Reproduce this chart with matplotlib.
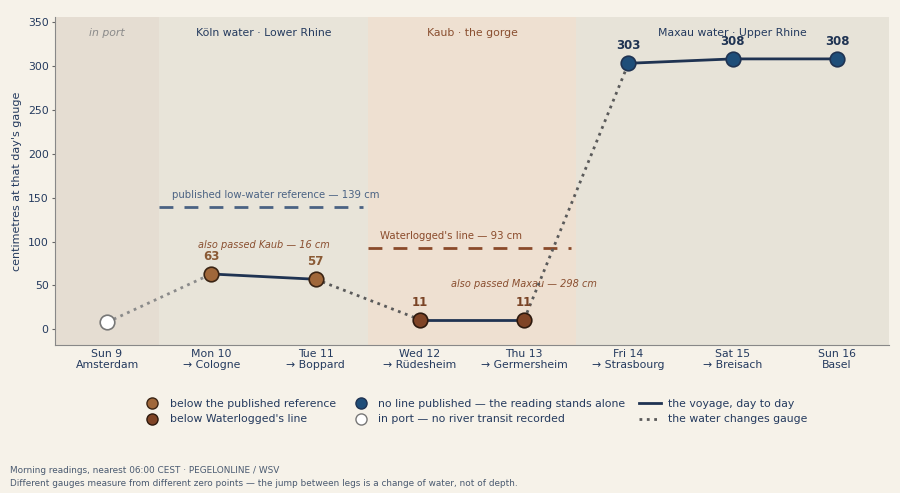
import matplotlib
matplotlib.use("Agg")
import matplotlib.pyplot as plt
from matplotlib.lines import Line2D

# données du voyage
jours = ["Sun 9", "Mon 10", "Tue 11", "Wed 12", "Thu 13", "Fri 14", "Sat 15", "Sun 16"]
lieux = ["Amsterdam", "→ Cologne", "→ Boppard", "→ Rüdesheim", "→ Germersheim",
         "→ Strasbourg", "→ Breisach", "Basel"]
niveaux = [8, 63, 57, 11, 11, 303, 308, 308]
categories = ["port", "ref", "ref", "wl", "wl", "none", "none", "none"]

# tronçons (même échelle) : index de début et de fin
troncons = [(1, 2), (3, 4), (5, 7)]
# changements d'échelle
changements = [(0, 1), (2, 3), (4, 5)]

reference_publiee = 139
ligne_waterlogged = 93
kaub_passage = 16
maxau_passage = 298

fond = "#f6f2e9"
marine = "#1f3352"
bleu = "#1f4e79"
brun_clair = "#a0673a"
brun_fonce = "#7f4426"
texte = "#243a5e"

fig, ax = plt.subplots(figsize=(9, 4.93), dpi=100)
fig.patch.set_facecolor(fond)
ax.set_facecolor(fond)
fig.subplots_adjust(left=0.061, right=0.988, top=0.966, bottom=0.3)

# bandes de fond
ax.axvspan(-0.5, 0.5, color="#e5ddd2", zorder=0, lw=0)
ax.axvspan(0.5, 2.5, color="#e8e4d9", zorder=0, lw=0)
ax.axvspan(2.5, 4.5, color="#eee0d1", zorder=0, lw=0)
ax.axvspan(4.5, 7.5, color="#e7e3d8", zorder=0, lw=0)

ax.text(0, 337, "in port", ha="center", va="center", fontsize=7.8, style="italic", color="#8a8a8a")
ax.text(1.5, 337, "Köln water · Lower Rhine", ha="center", va="center", fontsize=7.8, color=texte)
ax.text(3.5, 337, "Kaub · the gorge", ha="center", va="center", fontsize=7.8, color="#8a4f30")
ax.text(6, 337, "Maxau water · Upper Rhine", ha="center", va="center", fontsize=7.8, color=texte)

# lignes de référence
ax.plot([0.5, 2.45], [reference_publiee] * 2, ls=(0, (5, 4)), lw=2, color="#4a6283", zorder=2)
ax.text(0.62, reference_publiee + 14, "published low-water reference — 139 cm", fontsize=7.3,
        color="#4a6283", va="center")
ax.plot([2.5, 4.45], [ligne_waterlogged] * 2, ls=(0, (5, 4)), lw=2, color="#8a4a2a", zorder=2)
ax.text(2.62, ligne_waterlogged + 13, "Waterlogged's line — 93 cm", fontsize=7.3,
        color="#8a4a2a", va="center")

ax.text(1.5, 96, f"also passed Kaub — {kaub_passage} cm", fontsize=7.0, style="italic",
        color="#8a4f30", ha="center", va="center")
ax.text(4.0, 52, f"also passed Maxau — {maxau_passage} cm", fontsize=7.0, style="italic",
        color="#8a4f30", ha="center", va="center")

x = list(range(len(jours)))

for a, b in changements:
    c = "#8a8a8a" if a == 0 else "#5a5a5a"
    ax.plot(x[a:b + 1], niveaux[a:b + 1], ls=":", lw=2, color=c, zorder=3)
for a, b in troncons:
    ax.plot(x[a:b + 1], niveaux[a:b + 1], ls="-", lw=2, color=marine, zorder=3)

couleurs = {"port": ("white", "#777777"), "ref": (brun_clair, "#3a2414"),
            "wl": (brun_fonce, "#2e1a0e"), "none": (bleu, marine)}
couleurs_txt = {"ref": "#8a5a35", "wl": "#7a4426", "none": marine}
for i in x:
    fc, ec = couleurs[categories[i]]
    ax.plot(x[i], niveaux[i], "o", ms=10.5, mfc=fc, mec=ec, mew=1.2, zorder=4)
    if categories[i] != "port":
        ax.annotate(str(niveaux[i]), (x[i], niveaux[i]), xytext=(0, 8), textcoords="offset points",
                    ha="center", va="bottom", fontsize=8.5, fontweight="bold",
                    color=couleurs_txt[categories[i]], zorder=5)

ax.set_xlim(-0.5, 7.5)
ax.set_ylim(-18, 356)
ax.set_yticks([0, 50, 100, 150, 200, 250, 300, 350])
ax.set_xticks(x)
ax.set_xticklabels([f"{j}\n{l}" for j, l in zip(jours, lieux)])
ax.tick_params(colors="#666666", labelcolor=texte, labelsize=7.8)
ax.tick_params(axis="x", length=0, pad=2.5)
ax.tick_params(axis="y", length=2.5, pad=2)
ax.set_ylabel("centimetres at that day's gauge", fontsize=8, color=texte, labelpad=4)
for s in ["top", "right"]:
    ax.spines[s].set_visible(False)
ax.spines["left"].set_color("#888888")
ax.spines["bottom"].set_color("#888888")

handles = [
    Line2D([], [], ls="", marker="o", ms=8, mfc=brun_clair, mec="#3a2414", label="below the published reference"),
    Line2D([], [], ls="", marker="o", ms=8, mfc=brun_fonce, mec="#2e1a0e", label="below Waterlogged's line"),
    Line2D([], [], ls="", marker="o", ms=8, mfc=bleu, mec=marine, label="no line published — the reading stands alone"),
    Line2D([], [], ls="", marker="o", ms=8, mfc="white", mec="#777777", label="in port — no river transit recorded"),
    Line2D([], [], ls="-", lw=2, color=marine, label="the voyage, day to day"),
    Line2D([], [], ls=":", lw=2, color="#5a5a5a", label="the water changes gauge"),
]
leg = fig.legend(handles=handles, loc="center", bbox_to_anchor=(0.527, 0.165), ncol=3, frameon=False,
                 fontsize=7.8, handlelength=2.0, columnspacing=1.3, handletextpad=0.6, labelspacing=0.5)
for t in leg.get_texts():
    t.set_color(texte)

fig.text(0.011, 0.046, "Morning readings, nearest 06:00 CEST · PEGELONLINE / WSV", fontsize=6.4,
         color="#4a5a70", va="center")
fig.text(0.011, 0.019, "Different gauges measure from different zero points — the jump between legs is a change of water, not of depth.",
         fontsize=6.4, color="#4a5a70", va="center")

fig.savefig("out.png", dpi=100, facecolor=fond)
